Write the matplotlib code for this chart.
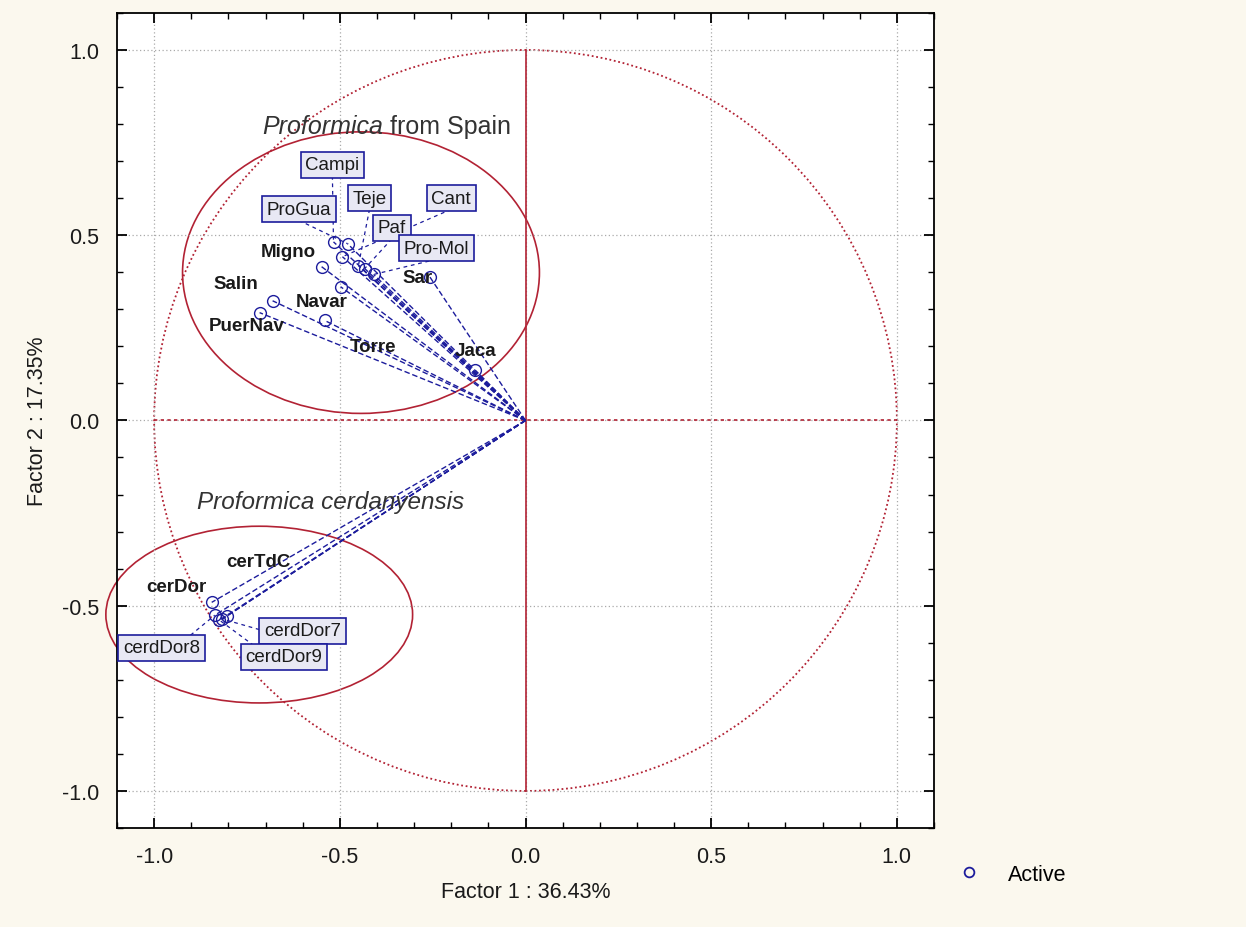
import numpy as np
import matplotlib
matplotlib.use("Agg")
import matplotlib.pyplot as plt
from matplotlib.patches import Ellipse, Circle
from matplotlib.ticker import MultipleLocator

plt.rcParams["font.family"] = ["Liberation Sans", "DejaVu Sans"]

# variable coordinates on Factor 1 / Factor 2
spain_names = ["Campi", "ProGua", "Cant", "Migno", "Teje", "Paf", "Pro-Mol",
               "Sar", "Navar", "Salin", "PuerNav", "Torre", "Jaca"]
spain_f1 = [-0.517, -0.479, -0.493, -0.549, -0.450, -0.433, -0.409,
            -0.258, -0.498, -0.681, -0.716, -0.541, -0.135]
spain_f2 = [0.482, 0.477, 0.442, 0.415, 0.418, 0.410, 0.394,
            0.388, 0.361, 0.323, 0.291, 0.270, 0.135]
spain_boxed = [True, True, True, False, True, True, True,
               False, False, False, False, False, False]

cerd_names = ["cerDor", "cerTdC", "cerdDor7", "cerdDor9", "cerdDor8"]
cerd_f1 = [-0.845, -0.805, -0.816, -0.824, -0.837]
cerd_f2 = [-0.491, -0.528, -0.536, -0.539, -0.526]
cerd_boxed = [False, False, True, True, True]

# label positions (layout)
spain_lab = [(-0.52, 0.690), (-0.61, 0.570), (-0.20, 0.600), (-0.64, 0.455),
             (-0.42, 0.600), (-0.36, 0.520), (-0.24, 0.465),
             (-0.29, 0.385), (-0.55, 0.320), (-0.78, 0.370), (-0.75, 0.255),
             (-0.41, 0.200), (-0.135, 0.190)]
cerd_lab = [(-0.94, -0.448), (-0.72, -0.380), (-0.60, -0.568), (-0.65, -0.638),
            (-0.98, -0.614)]

blue = "#1c1c9c"
red = "#b22234"
txt = "#1a1a1a"

fig = plt.figure(figsize=(12.46, 9.28), dpi=100, facecolor="#fbf8ee")
ax = fig.add_axes([0.0939, 0.1067, 0.6557, 0.8783])
ax.set_facecolor("white")
ax.set_xlim(-1.1, 1.1)
ax.set_ylim(-1.1, 1.1)

ax.xaxis.set_major_locator(MultipleLocator(0.5))
ax.yaxis.set_major_locator(MultipleLocator(0.5))
ax.xaxis.set_minor_locator(MultipleLocator(0.1))
ax.yaxis.set_minor_locator(MultipleLocator(0.1))
ax.tick_params(which="both", direction="in", top=True, right=True, labelsize=15.5,
               pad=13, labelcolor=txt)
ax.tick_params(which="major", length=7, width=1.3)
ax.tick_params(which="minor", length=4, width=1.0)
ax.grid(True, which="major", linestyle=(0, (1, 2)), color="#aaaaaa", linewidth=0.9)
ax.xaxis.set_major_formatter(plt.FuncFormatter(lambda v, p: f"{v:.1f}"))
ax.yaxis.set_major_formatter(plt.FuncFormatter(lambda v, p: f"{v:.1f}"))
for s in ax.spines.values():
    s.set_linewidth(1.3)

# unit circle and axes lines
ax.add_patch(Circle((0, 0), 1.0, fill=False, ec=red, lw=1.3, ls=(0, (1, 1.5))))
ax.plot([-1, 1], [0, 0], color=red, lw=1.2, ls=(0, (2, 2)))
ax.plot([0, 0], [-1, 1], color=red, lw=1.2)

# group ellipses
ax.add_patch(Ellipse((-0.443, 0.399), 0.961, 0.760, fill=False, ec=red, lw=1.2,
                     clip_on=False))
ax.add_patch(Ellipse((-0.717, -0.524), 0.826, 0.477, fill=False, ec=red, lw=1.2,
                     clip_on=False))

box = dict(boxstyle="square,pad=0.25", fc="#e8e8f4", ec=blue, lw=1.2)


def draw_group(names, f1, f2, boxed, labs):
    for n, x, y, b, (lx, ly) in zip(names, f1, f2, boxed, labs):
        ax.plot([0, x], [0, y], color=blue, lw=1.0, ls=(0, (4, 2)))
        ax.plot(x, y, "o", ms=8.5, mfc="none", mec=blue, mew=1.0)
        if b:
            ax.plot([lx, x], [ly - 0.03, y], color=blue, lw=0.9, ls=(0, (3, 3)))
            ax.text(lx, ly, n, fontsize=13.5, color=txt, ha="center",
                    va="center", bbox=box, zorder=5)
        else:
            ax.text(lx, ly, n, fontsize=13.5, color=txt, ha="center",
                    va="center", fontweight="bold")


draw_group(spain_names, spain_f1, spain_f2, spain_boxed, spain_lab)
draw_group(cerd_names, cerd_f1, cerd_f2, cerd_boxed, cerd_lab)

t1 = ax.text(-0.708, 0.795, "Proformica", fontsize=18, style="italic", color="#333333",
             ha="left", va="center")
ax.annotate(" from Spain", xy=(1, 0.5), xycoords=t1, va="center", ha="left",
            fontsize=18, color="#333333")
ax.text(-0.885, -0.22, "Proformica cerdanyensis", fontsize=17.5, style="italic",
        color="#333333", ha="left", va="center")

ax.set_xlabel("Factor 1 : 36.43%", fontsize=15.5, labelpad=10, color=txt)
ax.set_ylabel("Factor 2 : 17.35%", fontsize=15.5, labelpad=10, color=txt)

# legend
fig.legend(handles=[plt.Line2D([], [], ls="none", marker="o", ms=7, mfc="none",
                                mec=blue, mew=1.3)],
           labels=["Active"], loc="center left", bbox_to_anchor=(0.745, 0.057),
           frameon=False, fontsize=15.5, handletextpad=0.8)

fig.savefig("out.png", dpi=100, facecolor=fig.get_facecolor())
